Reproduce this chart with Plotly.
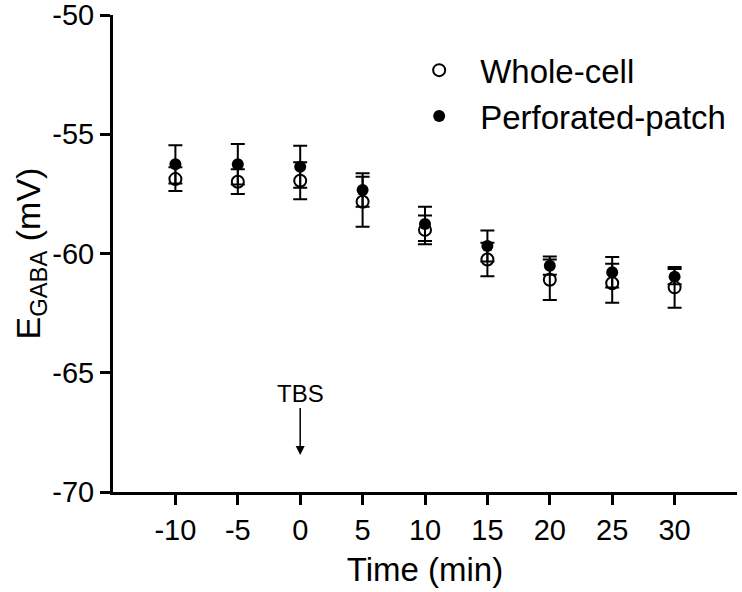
import plotly.graph_objects as go

time_min = [-10, -5, 0, 5, 10, 15, 20, 25, 30]
whole_cell = [-56.88, -56.99, -56.95, -57.83, -59.01, -60.25, -61.10, -61.25, -61.42]
whole_cell_sem = [0.50, 0.52, 0.78, 1.05, 0.60, 0.70, 0.85, 0.82, 0.85]
perforated = [-56.26, -56.26, -56.36, -57.34, -58.76, -59.69, -60.51, -60.79, -60.97]
perforated_sem = [0.80, 0.85, 0.88, 0.70, 0.72, 0.65, 0.38, 0.64, 0.32]

x_ticks = [-10, -5, 0, 5, 10, 15, 20, 25, 30]
y_ticks = [-70, -65, -60, -55, -50]

FONT = "Arial, Liberation Sans, sans-serif"

fig = go.Figure()
fig.add_trace(go.Scatter(
    x=time_min, y=whole_cell, mode="markers", name="Whole-cell",
    marker=dict(symbol="circle-open", size=12, color="black", line=dict(width=2, color="black")),
    error_y=dict(type="data", array=whole_cell_sem, visible=True, color="black", thickness=2, width=7),
))
fig.add_trace(go.Scatter(
    x=time_min, y=perforated, mode="markers", name="Perforated-patch",
    marker=dict(symbol="circle", size=12, color="black"),
    error_y=dict(type="data", array=perforated_sem, visible=True, color="black", thickness=2, width=7),
))

fig.add_annotation(
    x=0, y=-68.45, xref="x", yref="y", text="TBS", showarrow=True,
    ax=0, ay=-62, arrowhead=2, arrowsize=1.2, arrowwidth=1.5, arrowcolor="black",
    font=dict(family=FONT, size=24, color="black"),
)

fig.update_layout(
    width=742, height=592,
    margin=dict(l=113, r=5, t=15, b=100),
    paper_bgcolor="white", plot_bgcolor="white",
    font=dict(family=FONT, color="black"),
    showlegend=True,
    legend=dict(x=0.457, y=0.943, xanchor="left", yanchor="top",
                font=dict(family=FONT, size=33, color="black"),
                itemwidth=72,
                bgcolor="rgba(0,0,0,0)", tracegroupgap=0),
    xaxis=dict(range=[-15, 35], tickvals=x_ticks, ticktext=[str(v) for v in x_ticks],
               showline=True, linecolor="black", linewidth=3, ticks="outside",
               ticklen=10, tickwidth=3, tickcolor="black", showgrid=False, zeroline=False,
               automargin=False, ticklabeloverflow="allow",
               tickfont=dict(family=FONT, size=29, color="black"),
               title=dict(text="Time (min)", font=dict(family=FONT, size=33, color="black"), standoff=14)),
    yaxis=dict(range=[-70, -50], tickvals=y_ticks, ticktext=[str(v) for v in y_ticks],
               showline=True, linecolor="black", linewidth=3, ticks="outside",
               ticklen=10, tickwidth=3, tickcolor="black", showgrid=False, zeroline=False,
               automargin=False, ticklabeloverflow="allow",
               tickfont=dict(family=FONT, size=29, color="black"),
               title=dict(text="E<sub>GABA</sub> (mV)", font=dict(family=FONT, size=34, color="black"), standoff=0)),
)

fig.write_html("out.html", config={"displayModeBar": False},
               post_script="document.body.style.margin='0';document.body.style.overflow='hidden';")
